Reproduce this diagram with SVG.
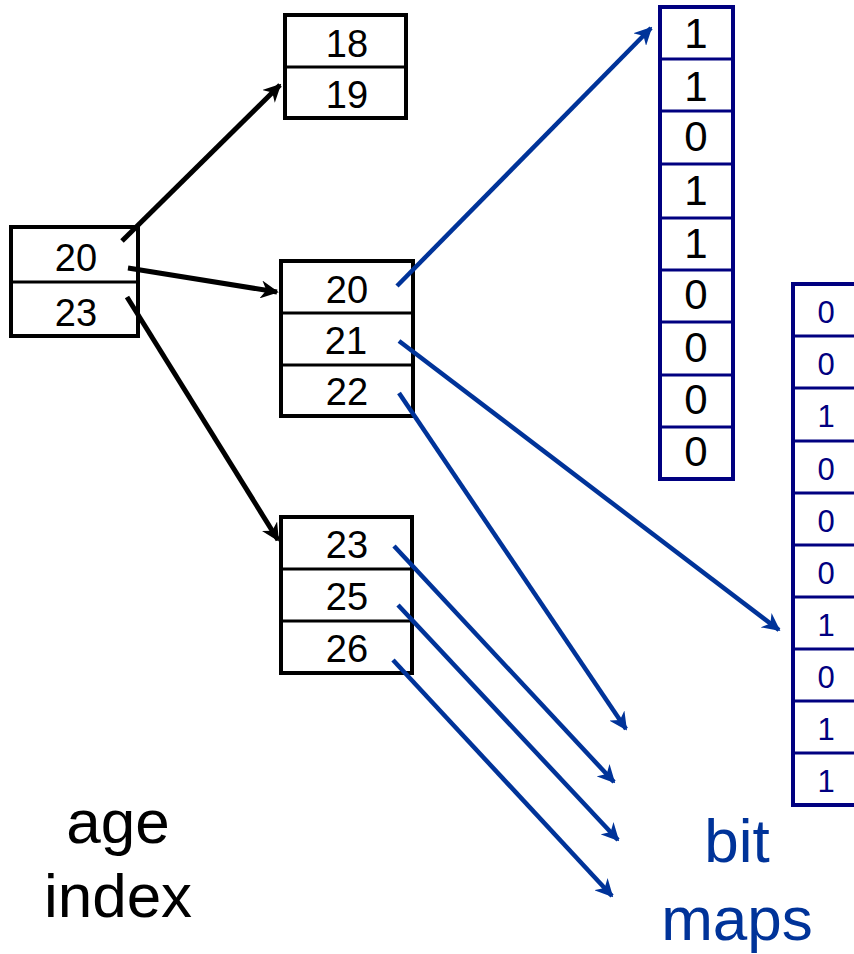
<svg xmlns="http://www.w3.org/2000/svg" width="854" height="954" viewBox="0 0 854 954">
<style>
.box{fill:#fff;stroke:#000;stroke-width:4}
.div{stroke:#000;stroke-width:3}
.t{font-family:"Liberation Sans",Arial,sans-serif;font-size:38px;text-anchor:middle;fill:#000}
.bm{fill:#fff;stroke:#000080;stroke-width:4}
.bdiv{stroke:#000080;stroke-width:3}
.bt{font-family:"Liberation Sans",Arial,sans-serif;font-size:42px;text-anchor:middle;fill:#000}
.bt2{font-family:"Liberation Sans",Arial,sans-serif;font-size:31px;text-anchor:middle;fill:#000080}
.k{stroke:#000;stroke-width:5;fill:none}
.b{stroke:#003399;stroke-width:4.5;fill:none}
.lab{font-family:"Liberation Sans",Arial,sans-serif;font-size:62px;text-anchor:middle}
</style>
<defs>
<marker id="ak" viewBox="0 0 10 10" refX="9" refY="5" markerWidth="3.6" markerHeight="3.6" orient="auto" markerUnits="strokeWidth">
<path d="M0,0 L10,5 L0,10 L3,5 Z" fill="#000"/>
</marker>
<marker id="ab" viewBox="0 0 10 10" refX="9" refY="5" markerWidth="4" markerHeight="4" orient="auto" markerUnits="strokeWidth">
<path d="M0,0 L10,5 L0,10 L3,5 Z" fill="#003399"/>
</marker>
</defs>
<g id="node-18-19">
<rect class="box" x="285" y="15" width="121" height="103"/>
<line class="div" x1="285" y1="67" x2="406" y2="67"/>
<text class="t" x="347" y="57">18</text>
<text class="t" x="347" y="108">19</text>
</g>
<g id="node-root">
<rect class="box" x="11" y="227" width="127" height="109"/>
<line class="div" x1="11" y1="282" x2="138" y2="282"/>
<text class="t" x="76" y="271">20</text>
<text class="t" x="76" y="326">23</text>
</g>
<g id="node-20-22">
<rect class="box" x="281" y="261" width="132" height="155"/>
<line class="div" x1="281" y1="313" x2="413" y2="313"/>
<line class="div" x1="281" y1="365" x2="413" y2="365"/>
<text class="t" x="347" y="303">20</text>
<text class="t" x="346" y="354">21</text>
<text class="t" x="347" y="405">22</text>
</g>
<g id="node-23-26">
<rect class="box" x="281" y="517" width="131" height="156"/>
<line class="div" x1="281" y1="569" x2="412" y2="569"/>
<line class="div" x1="281" y1="621" x2="412" y2="621"/>
<text class="t" x="347" y="558">23</text>
<text class="t" x="347" y="610">25</text>
<text class="t" x="347" y="662">26</text>
</g>
<g id="bitmap-1">
<rect class="bm" x="660" y="7" width="73" height="472"/>
<line class="bdiv" x1="660" y1="59" x2="733" y2="59"/>
<line class="bdiv" x1="660" y1="111" x2="733" y2="111"/>
<line class="bdiv" x1="660" y1="164" x2="733" y2="164"/>
<line class="bdiv" x1="660" y1="218" x2="733" y2="218"/>
<line class="bdiv" x1="660" y1="270" x2="733" y2="270"/>
<line class="bdiv" x1="660" y1="322" x2="733" y2="322"/>
<line class="bdiv" x1="660" y1="375" x2="733" y2="375"/>
<line class="bdiv" x1="660" y1="427" x2="733" y2="427"/>
<text class="bt" x="696" y="48">1</text>
<text class="bt" x="696" y="101">1</text>
<text class="bt" x="696" y="151">0</text>
<text class="bt" x="696" y="205">1</text>
<text class="bt" x="696" y="258">1</text>
<text class="bt" x="696" y="309">0</text>
<text class="bt" x="696" y="362">0</text>
<text class="bt" x="696" y="414">0</text>
<text class="bt" x="696" y="466">0</text>
</g>
<g id="bitmap-2">
<rect class="bm" x="793" y="284" width="80" height="521"/>
<line class="bdiv" x1="793" y1="336" x2="854" y2="336"/>
<line class="bdiv" x1="793" y1="388" x2="854" y2="388"/>
<line class="bdiv" x1="793" y1="441" x2="854" y2="441"/>
<line class="bdiv" x1="793" y1="493" x2="854" y2="493"/>
<line class="bdiv" x1="793" y1="545" x2="854" y2="545"/>
<line class="bdiv" x1="793" y1="597" x2="854" y2="597"/>
<line class="bdiv" x1="793" y1="649" x2="854" y2="649"/>
<line class="bdiv" x1="793" y1="701" x2="854" y2="701"/>
<line class="bdiv" x1="793" y1="753" x2="854" y2="753"/>
<text class="bt2" x="826" y="323">0</text>
<text class="bt2" x="826" y="375">0</text>
<text class="bt2" x="826" y="427">1</text>
<text class="bt2" x="826" y="480">0</text>
<text class="bt2" x="826" y="532">0</text>
<text class="bt2" x="826" y="584">0</text>
<text class="bt2" x="826" y="636">1</text>
<text class="bt2" x="826" y="688">0</text>
<text class="bt2" x="826" y="740">1</text>
<text class="bt2" x="826" y="792">1</text>
</g>
<g id="connectors">
<line class="k" x1="122" y1="241" x2="280" y2="85" marker-end="url(#ak)"/>
<line class="k" x1="128" y1="268" x2="277" y2="292" marker-end="url(#ak)"/>
<line class="k" x1="127" y1="297" x2="278" y2="540" marker-end="url(#ak)"/>
<line class="b" x1="397" y1="286" x2="651" y2="28" marker-end="url(#ab)"/>
<line class="b" x1="399" y1="341" x2="779" y2="630" marker-end="url(#ab)"/>
<line class="b" x1="399" y1="393" x2="626" y2="729" marker-end="url(#ab)"/>
<line class="b" x1="394" y1="546" x2="614" y2="782" marker-end="url(#ab)"/>
<line class="b" x1="398" y1="605" x2="618" y2="840" marker-end="url(#ab)"/>
<line class="b" x1="393" y1="660" x2="612" y2="896" marker-end="url(#ab)"/>
</g>
<g id="label-age-index">
<text class="lab" x="118" y="843" fill="#000">age</text>
<text class="lab" x="118" y="917" fill="#000">index</text>
</g>
<g id="label-bit-maps">
<text class="lab" x="737" y="862" fill="#003399">bit</text>
<text class="lab" x="737" y="940" fill="#003399">maps</text>
</g>
</svg>
